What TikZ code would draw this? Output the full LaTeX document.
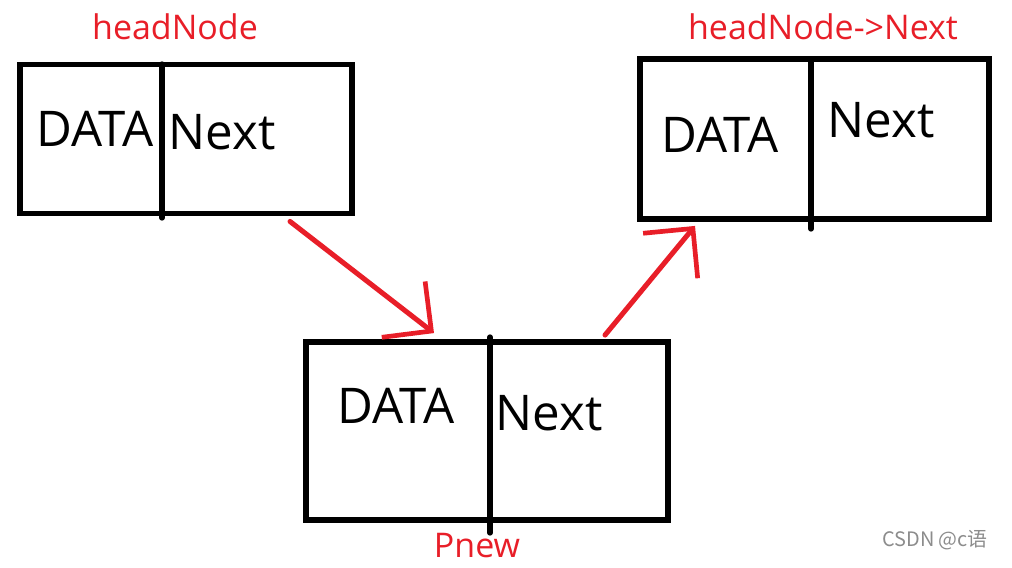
\documentclass[tikz,border=0pt]{standalone}
\usepackage{fontspec}
\setmainfont{Open Sans}
\newfontfamily\cjk{Noto Sans CJK SC}
\usetikzlibrary{arrows.meta}
\usetikzlibrary{calc}
\definecolor{inkred}{RGB}{232,30,40}

\begin{document}
\begin{tikzpicture}[
x=0.03cm, y=-0.03cm,
box/.style={rectangle, draw, line width=5pt, inner sep=0pt},
wall/.style={line width=4.5pt, line cap=round},
field/.style={anchor=base, inner sep=0pt, font=\fontsize{42}{48}\selectfont},
tag/.style={anchor=base, inner sep=0pt, text=inkred, font=\fontsize{29}{34}\selectfont},
link/.style={draw=inkred, line width=4.3pt, line cap=round,
  -{Straight Barb[length=0.95cm, angle=90:1.5cm, line width=4pt]}}
]
\useasboundingbox (0,0) rectangle (1012,568);

\node[box, minimum width=9.96cm, minimum height=4.47cm] (head) at (186,139) {};
\node[box, minimum width=10.47cm, minimum height=4.8cm] (next) at (814.5,139) {};
\node[box, minimum width=10.86cm, minimum height=5.34cm] (pnew) at (487,431) {};

\draw[wall] (162,64) -- (162,218);
\draw[wall] (811,59) -- (811,229);
\draw[wall] (490,337) -- (490,533);

\node[field] (hdata) at (95,147) {DATA};
\node[field] (hnext) at (222,150) {Next};
\node[field] (ndata) at (720,153) {DATA};
\node[field] (nnext) at (881,138) {Next};
\node[field] (pdata) at (396,423) {DATA};
\node[field] (pnext) at (549,430) {Next};

\node[tag] (headlbl) at (175,40) {headNode};
\node[tag] (nextlbl) at (823,40) {headNode->Next};
\node[tag] (pnewlbl) at (477,557) {Pnew};
\node[anchor=base west, inner sep=0pt, text=black!45, font=\cjk\fontsize{17}{20}\selectfont] (mark) at (882,546) {CSDN @c语};

\draw[link] ($(head.south)+(104,5)$) -- ($(pnew.north)+(-53,-6)$);
\draw[link] ($(pnew.north)+(118,-4)$) -- ($(next.south)+(-119.5,4)$);
\end{tikzpicture}
\end{document}
